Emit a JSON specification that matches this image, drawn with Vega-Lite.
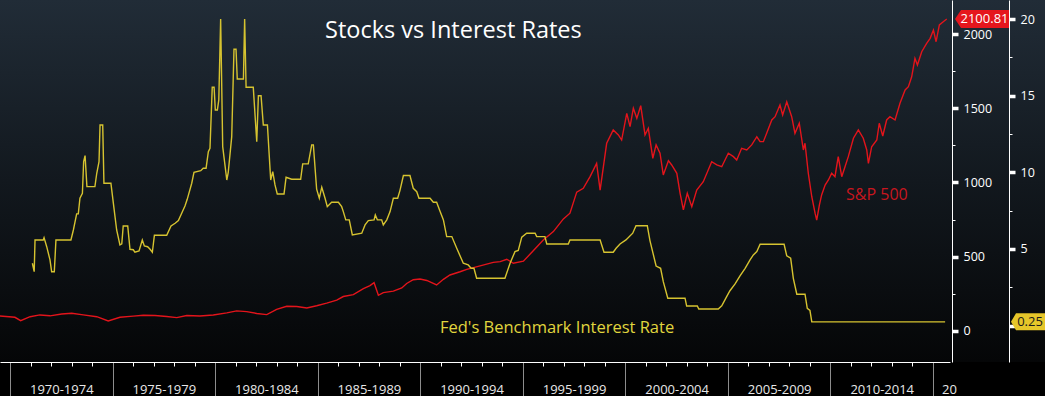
{
  "$schema": "https://vega.github.io/schema/vega-lite/v6.json",
  "width": 1045,
  "height": 362,
  "autosize": {"type": "none"},
  "padding": {"left": 0, "top": 0, "right": 0, "bottom": 34},
  "background": "#000000",
  "config": {
    "font": "Open Sans",
    "view": {
      "stroke": null,
      "fill": {"gradient": "linear", "x1": 0, "y1": 0, "x2": 0, "y2": 1,
        "stops": [{"offset": 0, "color": "#212c37"}, {"offset": 0.5, "color": "#12181e"}, {"offset": 1, "color": "#050607"}]}
    }
  },
  "title": {"text": "Stocks vs Interest Rates", "anchor": "start", "frame": "group", "offset": 0, "dx": 325, "dy": 61, "baseline": "alphabetic", "color": "#ffffff", "font": "Open Sans", "fontSize": 23.5, "fontWeight": "normal"},
  "datasets": {
    "sp": [
      {"year":1969.51,"sp":101},{"year":1970.24,"sp":92},{"year":1970.52,"sp":69},{"year":1970.98,"sp":96},{"year":1971.46,"sp":108},{"year":1971.95,"sp":102},{"year":1972.52,"sp":114},{"year":1973.01,"sp":119},{"year":1973.57,"sp":108},{"year":1974.23,"sp":96},{"year":1974.79,"sp":67},{"year":1975.36,"sp":92},{"year":1976.01,"sp":100},{"year":1976.5,"sp":106},{"year":1977.07,"sp":104},{"year":1977.64,"sp":97},{"year":1978.13,"sp":90},{"year":1978.62,"sp":104},{"year":1979.26,"sp":101},{"year":1979.91,"sp":108},{"year":1980.57,"sp":122},{"year":1981.05,"sp":135},{"year":1981.54,"sp":130},{"year":1982.03,"sp":118},{"year":1982.52,"sp":110},{"year":1983.0,"sp":145},{"year":1983.49,"sp":166},{"year":1983.98,"sp":165},{"year":1984.47,"sp":155},{"year":1984.95,"sp":170},{"year":1985.44,"sp":188},{"year":1985.93,"sp":208},{"year":1986.25,"sp":232},{"year":1986.74,"sp":245},{"year":1987.23,"sp":285},{"year":1987.55,"sp":305},{"year":1987.75,"sp":325},{"year":1987.96,"sp":240},{"year":1988.2,"sp":258},{"year":1988.69,"sp":268},{"year":1989.1,"sp":290},{"year":1989.34,"sp":320},{"year":1989.66,"sp":345},{"year":1989.99,"sp":350},{"year":1990.32,"sp":340},{"year":1990.8,"sp":310},{"year":1991.13,"sp":348},{"year":1991.45,"sp":377},{"year":1991.94,"sp":399},{"year":1992.27,"sp":415},{"year":1992.92,"sp":438},{"year":1993.56,"sp":462},{"year":1993.9,"sp":467},{"year":1994.22,"sp":483},{"year":1994.54,"sp":456},{"year":1995.03,"sp":470},{"year":1995.51,"sp":540},{"year":1996.0,"sp":613},{"year":1996.49,"sp":669},{"year":1996.98,"sp":755},{"year":1997.3,"sp":793},{"year":1997.63,"sp":935},{"year":1997.95,"sp":961},{"year":1998.28,"sp":1040},{"year":1998.6,"sp":1129},{"year":1998.77,"sp":949},{"year":1999.09,"sp":1264},{"year":1999.41,"sp":1354},{"year":1999.66,"sp":1320},{"year":1999.82,"sp":1286},{"year":2000.07,"sp":1466},{"year":2000.23,"sp":1376},{"year":2000.39,"sp":1500},{"year":2000.56,"sp":1432},{"year":2000.75,"sp":1517},{"year":2000.96,"sp":1320},{"year":2001.12,"sp":1365},{"year":2001.34,"sp":1163},{"year":2001.5,"sp":1253},{"year":2001.69,"sp":1197},{"year":2001.85,"sp":1051},{"year":2002.1,"sp":1147},{"year":2002.26,"sp":1118},{"year":2002.51,"sp":1062},{"year":2002.67,"sp":927},{"year":2002.83,"sp":815},{"year":2003.02,"sp":927},{"year":2003.24,"sp":837},{"year":2003.48,"sp":949},{"year":2003.8,"sp":1005},{"year":2004.21,"sp":1140},{"year":2004.46,"sp":1118},{"year":2004.7,"sp":1106},{"year":2005.02,"sp":1197},{"year":2005.27,"sp":1174},{"year":2005.43,"sp":1151},{"year":2005.67,"sp":1230},{"year":2005.92,"sp":1219},{"year":2006.16,"sp":1253},{"year":2006.41,"sp":1308},{"year":2006.57,"sp":1275},{"year":2006.73,"sp":1275},{"year":2006.89,"sp":1331},{"year":2007.14,"sp":1421},{"year":2007.3,"sp":1443},{"year":2007.54,"sp":1522},{"year":2007.67,"sp":1455},{"year":2007.87,"sp":1544},{"year":2008.11,"sp":1443},{"year":2008.27,"sp":1331},{"year":2008.48,"sp":1399},{"year":2008.68,"sp":1219},{"year":2008.76,"sp":1264},{"year":2008.92,"sp":1062},{"year":2009.09,"sp":904},{"year":2009.25,"sp":793},{"year":2009.33,"sp":747},{"year":2009.46,"sp":848},{"year":2009.57,"sp":916},{"year":2009.74,"sp":983},{"year":2009.9,"sp":1017},{"year":2010.06,"sp":1062},{"year":2010.22,"sp":1039},{"year":2010.38,"sp":1174},{"year":2010.55,"sp":1039},{"year":2010.71,"sp":1106},{"year":2010.87,"sp":1174},{"year":2011.12,"sp":1298},{"year":2011.36,"sp":1354},{"year":2011.6,"sp":1298},{"year":2011.77,"sp":1219},{"year":2011.85,"sp":1129},{"year":2012.01,"sp":1241},{"year":2012.26,"sp":1286},{"year":2012.38,"sp":1399},{"year":2012.55,"sp":1313},{"year":2012.74,"sp":1421},{"year":2012.9,"sp":1443},{"year":2013.15,"sp":1421},{"year":2013.39,"sp":1533},{"year":2013.64,"sp":1623},{"year":2013.8,"sp":1645},{"year":2013.96,"sp":1712},{"year":2014.12,"sp":1836},{"year":2014.24,"sp":1791},{"year":2014.45,"sp":1881},{"year":2014.69,"sp":1937},{"year":2014.86,"sp":1971},{"year":2015.02,"sp":2027},{"year":2015.15,"sp":1948},{"year":2015.31,"sp":2061},{"year":2015.5,"sp":2083},{"year":2015.67,"sp":2100.81}
    ],
    "rate": [
      {"year":1971.09,"rate":4.07},{"year":1971.18,"rate":3.52},{"year":1971.22,"rate":5.59},{"year":1971.62,"rate":5.59},{"year":1971.66,"rate":5.74},{"year":1971.79,"rate":5.15},{"year":1971.95,"rate":4.29},{"year":1972.03,"rate":3.52},{"year":1972.16,"rate":3.52},{"year":1972.24,"rate":5.59},{"year":1972.97,"rate":5.59},{"year":1973.09,"rate":6.24},{"year":1973.25,"rate":7.29},{"year":1973.33,"rate":7.29},{"year":1973.41,"rate":8.31},{"year":1973.53,"rate":8.63},{"year":1973.59,"rate":10.7},{"year":1973.66,"rate":11.09},{"year":1973.75,"rate":9.07},{"year":1974.14,"rate":9.07},{"year":1974.23,"rate":9.94},{"year":1974.34,"rate":10.7},{"year":1974.39,"rate":13.09},{"year":1974.52,"rate":13.09},{"year":1974.58,"rate":9.29},{"year":1974.92,"rate":9.29},{"year":1975.04,"rate":7.98},{"year":1975.2,"rate":6.24},{"year":1975.36,"rate":5.26},{"year":1975.45,"rate":5.33},{"year":1975.52,"rate":6.5},{"year":1975.74,"rate":6.5},{"year":1975.85,"rate":4.98},{"year":1976.01,"rate":4.95},{"year":1976.09,"rate":4.79},{"year":1976.29,"rate":4.88},{"year":1976.45,"rate":5.59},{"year":1976.55,"rate":5.2},{"year":1976.71,"rate":5.15},{"year":1976.83,"rate":4.98},{"year":1976.94,"rate":4.79},{"year":1977.04,"rate":5.9},{"year":1977.64,"rate":5.9},{"year":1977.85,"rate":6.5},{"year":1978.05,"rate":6.68},{"year":1978.21,"rate":6.85},{"year":1978.37,"rate":7.33},{"year":1978.53,"rate":7.8},{"year":1978.64,"rate":8.24},{"year":1978.86,"rate":9.29},{"year":1978.97,"rate":10.0},{"year":1979.3,"rate":10.11},{"year":1979.42,"rate":10.27},{"year":1979.56,"rate":10.27},{"year":1979.67,"rate":11.35},{"year":1979.75,"rate":11.57},{"year":1979.86,"rate":15.55},{"year":1979.95,"rate":15.55},{"year":1980.01,"rate":14.07},{"year":1980.11,"rate":14.07},{"year":1980.18,"rate":14.72},{"year":1980.27,"rate":20.0},{"year":1980.37,"rate":11.68},{"year":1980.57,"rate":9.5},{"year":1980.64,"rate":10.0},{"year":1980.81,"rate":12.33},{"year":1980.92,"rate":18.03},{"year":1981.02,"rate":18.03},{"year":1981.08,"rate":16.09},{"year":1981.38,"rate":16.09},{"year":1981.44,"rate":20.0},{"year":1981.51,"rate":15.55},{"year":1981.86,"rate":15.55},{"year":1982.03,"rate":12.0},{"year":1982.11,"rate":15.0},{"year":1982.24,"rate":15.0},{"year":1982.35,"rate":13.09},{"year":1982.55,"rate":13.09},{"year":1982.71,"rate":9.5},{"year":1982.81,"rate":10.05},{"year":1982.92,"rate":9.18},{"year":1983.03,"rate":8.59},{"year":1983.36,"rate":8.59},{"year":1983.46,"rate":9.68},{"year":1983.73,"rate":9.55},{"year":1984.17,"rate":9.55},{"year":1984.27,"rate":10.55},{"year":1984.54,"rate":10.55},{"year":1984.71,"rate":11.79},{"year":1984.79,"rate":11.79},{"year":1984.95,"rate":8.9},{"year":1985.08,"rate":8.31},{"year":1985.2,"rate":9.03},{"year":1985.36,"rate":8.31},{"year":1985.47,"rate":7.76},{"year":1985.68,"rate":8.05},{"year":1986.01,"rate":8.05},{"year":1986.17,"rate":7.76},{"year":1986.25,"rate":7.44},{"year":1986.37,"rate":6.9},{"year":1986.54,"rate":6.9},{"year":1986.69,"rate":5.92},{"year":1987.15,"rate":6.03},{"year":1987.31,"rate":6.57},{"year":1987.47,"rate":6.85},{"year":1987.75,"rate":6.9},{"year":1987.81,"rate":7.22},{"year":1987.91,"rate":6.9},{"year":1988.12,"rate":6.9},{"year":1988.2,"rate":6.57},{"year":1988.37,"rate":6.9},{"year":1988.53,"rate":7.44},{"year":1988.69,"rate":8.31},{"year":1988.9,"rate":8.31},{"year":1989.01,"rate":8.81},{"year":1989.18,"rate":9.79},{"year":1989.5,"rate":9.79},{"year":1989.66,"rate":8.96},{"year":1989.83,"rate":8.74},{"year":1989.94,"rate":8.31},{"year":1990.48,"rate":8.31},{"year":1990.64,"rate":8.05},{"year":1990.8,"rate":8.05},{"year":1990.97,"rate":7.44},{"year":1991.13,"rate":6.9},{"year":1991.29,"rate":5.81},{"year":1991.54,"rate":5.81},{"year":1991.78,"rate":5.05},{"year":1992.1,"rate":4.07},{"year":1992.34,"rate":3.96},{"year":1992.48,"rate":3.74},{"year":1992.62,"rate":3.74},{"year":1992.75,"rate":3.09},{"year":1994.13,"rate":3.09},{"year":1994.38,"rate":4.07},{"year":1994.62,"rate":4.83},{"year":1994.78,"rate":4.9},{"year":1994.95,"rate":5.77},{"year":1995.19,"rate":6.03},{"year":1995.6,"rate":6.03},{"year":1995.68,"rate":5.81},{"year":1996.08,"rate":5.81},{"year":1996.17,"rate":5.33},{"year":1997.22,"rate":5.33},{"year":1997.3,"rate":5.59},{"year":1998.77,"rate":5.59},{"year":1998.96,"rate":4.79},{"year":1999.41,"rate":4.79},{"year":1999.55,"rate":5.05},{"year":1999.74,"rate":5.33},{"year":2000.03,"rate":5.59},{"year":2000.36,"rate":6.03},{"year":2000.52,"rate":6.52},{"year":2001.07,"rate":6.52},{"year":2001.2,"rate":5.55},{"year":2001.5,"rate":3.89},{"year":2001.72,"rate":3.74},{"year":2001.85,"rate":2.87},{"year":2002.07,"rate":1.79},{"year":2002.91,"rate":1.79},{"year":2002.99,"rate":1.28},{"year":2003.51,"rate":1.28},{"year":2003.58,"rate":1.09},{"year":2004.53,"rate":1.09},{"year":2004.7,"rate":1.3},{"year":2004.94,"rate":1.89},{"year":2005.1,"rate":2.28},{"year":2005.35,"rate":2.72},{"year":2005.59,"rate":3.24},{"year":2005.84,"rate":3.74},{"year":2006.08,"rate":4.29},{"year":2006.24,"rate":4.61},{"year":2006.41,"rate":4.83},{"year":2006.57,"rate":5.31},{"year":2007.74,"rate":5.31},{"year":2007.87,"rate":4.55},{"year":2008.06,"rate":4.4},{"year":2008.19,"rate":3.09},{"year":2008.36,"rate":2.05},{"year":2008.76,"rate":2.05},{"year":2008.87,"rate":1.13},{"year":2009.0,"rate":1.0},{"year":2009.09,"rate":0.25},{"year":2015.59,"rate":0.25}
    ]
  },
  "layer": [
    {
      "data": {"name": "sp"},
      "layer": [
        {
          "mark": {"type": "line", "color": "#e3141b", "strokeWidth": 1.4},
          "encoding": {
            "x": {
              "field": "year", "type": "quantitative",
              "scale": {"domain": [1969.5125, 2020.46], "nice": false, "zero": false},
              "axis": {
                "values": [1970,1971,1972,1973,1974,1975,1976,1977,1978,1979,1980,1981,1982,1983,1984,1985,1986,1987,1988,1989,1990,1991,1992,1993,1994,1995,1996,1997,1998,1999,2000,2001,2002,2003,2004,2005,2006,2007,2008,2009,2010,2011,2012,2013,2014,2015,1972.5,1977.5,1982.5,1987.5,1992.5,1997.5,2002.5,2007.5,2012.5,2015.42],
                "labelExpr": "datum.value % 5 == 2.5 ? (datum.value - 2.5) + '-' + (datum.value + 1.5) : (datum.value > 2015.2 ? '20' : '')",
                "title": null, "grid": false,
                "domain": true, "domainColor": "#ffffff", "domainWidth": 1, "domainDash": [950, 300],
                "tickColor": {"condition": {"test": "datum.value % 5 == 0", "value": "#8c8c8c"}, "value": "#ffffff"},
                "tickSize": {"condition": {"test": "datum.value % 5 == 0", "value": 34}, "value": 4},
                "tickOpacity": {"condition": {"test": "datum.value % 1 != 0", "value": 0}, "value": 1},
                "labelAlign": {"condition": {"test": "datum.value > 2015.2", "value": "left"}, "value": "center"},
                "labelBaseline": "alphabetic", "labelPadding": 27,
                "labelColor": "#e8e8e8", "labelFont": "Open Sans", "labelFontSize": 13,
                "labelOverlap": false, "labelFlush": false, "labelBound": false
              }
            },
            "y": {
              "field": "sp", "type": "quantitative",
              "scale": {"domain": [-209, 2229], "nice": false, "zero": false},
              "axis": {
                "orient": "right", "offset": -93, "title": null, "grid": false,
                "values": [0,250,500,750,1000,1250,1500,1750,2000], "format": "d",
                "labelExpr": "datum.value % 500 == 0 ? datum.label : ''",
                "domainColor": "#ffffff", "tickColor": "#ffffff",
                "tickSize": {"condition": {"test": "datum.value % 500 == 0", "value": 6}, "value": 3},
                "tickWidth": {"condition": {"test": "datum.value % 500 == 0", "value": 3.5}, "value": 1},
                "labelPadding": 5, "labelColor": "#ffffff", "labelFont": "Open Sans", "labelFontSize": 12.5,
                "labelOverlap": false, "labelFlush": false, "labelBound": false
              }
            }
          }
        },
        {
          "transform": [{"window": [{"op": "row_number", "as": "rn"}], "sort": [{"field": "year", "order": "descending"}]}, {"filter": "datum.rn == 1"}],
          "mark": {"type": "point", "shape": "M-1.8,0L-1.68,-0.18L-0.72,-0.18L-0.72,0.18L-1.68,0.18Z", "size": 10000, "filled": true, "fill": "#e5161d", "opacity": 1, "strokeWidth": 0},
          "encoding": {
            "x": {"value": "width"},
            "y": {"field": "sp", "type": "quantitative"}
          }
        },
        {
          "transform": [{"window": [{"op": "row_number", "as": "rn"}], "sort": [{"field": "year", "order": "descending"}]}, {"filter": "datum.rn == 1"}],
          "mark": {"type": "text", "color": "#ffffff", "font": "Open Sans", "fontSize": 13, "align": "center", "baseline": "middle", "dx": -60.5},
          "encoding": {
            "x": {"value": "width"},
            "y": {"field": "sp", "type": "quantitative"},
            "text": {"field": "sp", "type": "quantitative", "format": ".2f"}
          }
        },
        {
          "data": {"values": [{"label": "S&P 500"}]},
          "mark": {"type": "text", "color": "#c8161f", "font": "Open Sans", "fontSize": 16, "align": "left", "baseline": "middle"},
          "encoding": {
            "x": {
              "datum": 2010.76, "type": "quantitative",
              "scale": {"domain": [1969.5125, 2020.46], "nice": false, "zero": false},
              "axis": {
                "values": [1970,1971,1972,1973,1974,1975,1976,1977,1978,1979,1980,1981,1982,1983,1984,1985,1986,1987,1988,1989,1990,1991,1992,1993,1994,1995,1996,1997,1998,1999,2000,2001,2002,2003,2004,2005,2006,2007,2008,2009,2010,2011,2012,2013,2014,2015,1972.5,1977.5,1982.5,1987.5,1992.5,1997.5,2002.5,2007.5,2012.5,2015.42],
                "labelExpr": "datum.value % 5 == 2.5 ? (datum.value - 2.5) + '-' + (datum.value + 1.5) : (datum.value > 2015.2 ? '20' : '')",
                "title": null, "grid": false,
                "domain": true, "domainColor": "#ffffff", "domainWidth": 1, "domainDash": [950, 300],
                "tickColor": {"condition": {"test": "datum.value % 5 == 0", "value": "#8c8c8c"}, "value": "#ffffff"},
                "tickSize": {"condition": {"test": "datum.value % 5 == 0", "value": 34}, "value": 4},
                "tickOpacity": {"condition": {"test": "datum.value % 1 != 0", "value": 0}, "value": 1},
                "labelAlign": {"condition": {"test": "datum.value > 2015.2", "value": "left"}, "value": "center"},
                "labelBaseline": "alphabetic", "labelPadding": 27,
                "labelColor": "#e8e8e8", "labelFont": "Open Sans", "labelFontSize": 13,
                "labelOverlap": false, "labelFlush": false, "labelBound": false
              }
            },
            "y": {"datum": 914, "type": "quantitative"},
            "text": {"field": "label", "type": "nominal"}
          }
        }
      ]
    },
    {
      "data": {"name": "rate"},
      "layer": [
        {
          "mark": {"type": "line", "color": "#d6c330", "strokeWidth": 1.4},
          "encoding": {
            "x": {
              "field": "year", "type": "quantitative",
              "scale": {"domain": [1969.5125, 2020.46], "nice": false, "zero": false},
              "axis": {
                "values": [1970,1971,1972,1973,1974,1975,1976,1977,1978,1979,1980,1981,1982,1983,1984,1985,1986,1987,1988,1989,1990,1991,1992,1993,1994,1995,1996,1997,1998,1999,2000,2001,2002,2003,2004,2005,2006,2007,2008,2009,2010,2011,2012,2013,2014,2015,1972.5,1977.5,1982.5,1987.5,1992.5,1997.5,2002.5,2007.5,2012.5,2015.42],
                "labelExpr": "datum.value % 5 == 2.5 ? (datum.value - 2.5) + '-' + (datum.value + 1.5) : (datum.value > 2015.2 ? '20' : '')",
                "title": null, "grid": false,
                "domain": true, "domainColor": "#ffffff", "domainWidth": 1, "domainDash": [950, 300],
                "tickColor": {"condition": {"test": "datum.value % 5 == 0", "value": "#8c8c8c"}, "value": "#ffffff"},
                "tickSize": {"condition": {"test": "datum.value % 5 == 0", "value": 34}, "value": 4},
                "tickOpacity": {"condition": {"test": "datum.value % 1 != 0", "value": 0}, "value": 1},
                "labelAlign": {"condition": {"test": "datum.value > 2015.2", "value": "left"}, "value": "center"},
                "labelBaseline": "alphabetic", "labelPadding": 27,
                "labelColor": "#e8e8e8", "labelFont": "Open Sans", "labelFontSize": 13,
                "labelOverlap": false, "labelFlush": false, "labelBound": false
              }
            },
            "y": {
              "field": "rate", "type": "quantitative",
              "scale": {"domain": [-2.37, 21.24], "nice": false, "zero": false},
              "axis": {
                "orient": "right", "offset": -36, "title": null, "grid": false,
                "values": [0,2.5,5,7.5,10,12.5,15,17.5,20], "format": "d",
                "labelExpr": "datum.value % 5 == 0 && datum.value > 0 ? datum.label : ''",
                "domainColor": "#ffffff", "tickColor": "#ffffff",
                "tickSize": {"condition": {"test": "datum.value % 5 == 0", "value": 6}, "value": 3},
                "tickWidth": {"condition": {"test": "datum.value % 5 == 0", "value": 3.5}, "value": 1},
                "labelPadding": 5, "labelColor": "#ffffff", "labelFont": "Open Sans", "labelFontSize": 12.5,
                "labelOverlap": false, "labelFlush": false, "labelBound": false
              }
            }
          }
        },
        {
          "transform": [{"window": [{"op": "row_number", "as": "rn"}], "sort": [{"field": "year", "order": "descending"}]}, {"filter": "datum.rn == 1"}],
          "mark": {"type": "point", "shape": "M-0.68,0L-0.58,-0.17L0.02,-0.17L0.02,0.17L-0.58,0.17Z", "size": 10000, "filled": true, "fill": "#e6c62a", "opacity": 1, "strokeWidth": 0},
          "encoding": {
            "x": {"value": "width"},
            "y": {"field": "rate", "type": "quantitative"}
          }
        },
        {
          "transform": [{"window": [{"op": "row_number", "as": "rn"}], "sort": [{"field": "year", "order": "descending"}]}, {"filter": "datum.rn == 1"}],
          "mark": {"type": "text", "color": "#1a1a1a", "font": "Open Sans", "fontSize": 13, "align": "center", "baseline": "middle", "dx": -15},
          "encoding": {
            "x": {"value": "width"},
            "y": {"field": "rate", "type": "quantitative"},
            "text": {"field": "rate", "type": "quantitative", "format": ".2f"}
          }
        },
        {
          "data": {"values": [{"label": "Fed's Benchmark Interest Rate"}]},
          "mark": {"type": "text", "color": "#e0d63e", "font": "Open Sans", "fontSize": 16.5, "align": "left", "baseline": "middle"},
          "encoding": {
            "x": {
              "datum": 1990.96, "type": "quantitative",
              "scale": {"domain": [1969.5125, 2020.46], "nice": false, "zero": false},
              "axis": {
                "values": [1970,1971,1972,1973,1974,1975,1976,1977,1978,1979,1980,1981,1982,1983,1984,1985,1986,1987,1988,1989,1990,1991,1992,1993,1994,1995,1996,1997,1998,1999,2000,2001,2002,2003,2004,2005,2006,2007,2008,2009,2010,2011,2012,2013,2014,2015,1972.5,1977.5,1982.5,1987.5,1992.5,1997.5,2002.5,2007.5,2012.5,2015.42],
                "labelExpr": "datum.value % 5 == 2.5 ? (datum.value - 2.5) + '-' + (datum.value + 1.5) : (datum.value > 2015.2 ? '20' : '')",
                "title": null, "grid": false,
                "domain": true, "domainColor": "#ffffff", "domainWidth": 1, "domainDash": [950, 300],
                "tickColor": {"condition": {"test": "datum.value % 5 == 0", "value": "#8c8c8c"}, "value": "#ffffff"},
                "tickSize": {"condition": {"test": "datum.value % 5 == 0", "value": 34}, "value": 4},
                "tickOpacity": {"condition": {"test": "datum.value % 1 != 0", "value": 0}, "value": 1},
                "labelAlign": {"condition": {"test": "datum.value > 2015.2", "value": "left"}, "value": "center"},
                "labelBaseline": "alphabetic", "labelPadding": 27,
                "labelColor": "#e8e8e8", "labelFont": "Open Sans", "labelFontSize": 13,
                "labelOverlap": false, "labelFlush": false, "labelBound": false
              }
            },
            "y": {"datum": -0.15, "type": "quantitative"},
            "text": {"field": "label", "type": "nominal"}
          }
        }
      ]
    }
  ],
  "resolve": {"scale": {"y": "independent"}}
}
